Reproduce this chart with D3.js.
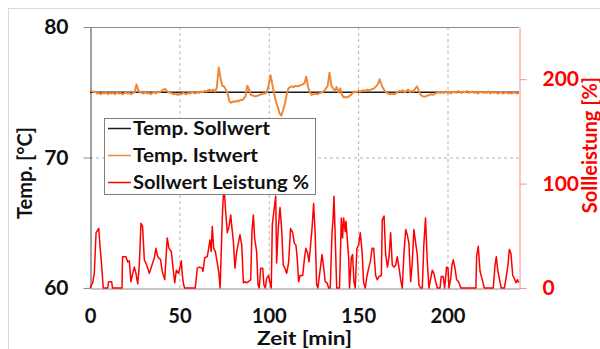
<!DOCTYPE html>
<html>
<head>
<meta charset="utf-8">
<script src="https://cdn.jsdelivr.net/npm/d3@7"></script>
<style>
  body { margin: 0; background: #fff; }
  svg text { font-family: Lato, "Liberation Sans", sans-serif; font-weight: bold; }
</style>
</head>
<body>
<svg id="chart" width="600" height="349"></svg>
<script>
// temperature setpoint (°C), flat line
const setpointTimes = [0, 240];
const setpointValues = [75, 75];

// measured temperature (°C), one value per minute, 0..240
const tempActual = [
  75.15, 75.1, 75.0, 75.05, 74.9, 74.95, 74.85, 74.95, 74.9, 75.0,     // 0
  74.85, 74.95, 74.9, 74.95, 74.85, 75.0, 74.9, 74.95, 74.85, 74.9,    // 10
  75.0, 74.9, 74.95, 74.85, 74.95, 75.0, 75.6, 75.15, 75.0, 74.95,     // 20
  74.9, 75.0, 74.9, 74.95, 74.85, 74.95, 75.0, 74.9, 75.05, 75.0,      // 30
  75.1, 75.2, 75.25, 75.1, 75.0, 74.95, 74.9, 74.85, 74.9, 74.8,       // 40
  74.9, 74.85, 74.95, 74.9, 74.85, 74.95, 74.9, 75.0, 74.95, 74.9,     // 50
  75.0, 74.95, 75.05, 75.0, 75.1, 75.05, 75.15, 75.2, 75.1, 75.2,      // 60
  75.05, 75.4, 76.9, 76.1, 75.5, 75.45, 75.2, 74.9, 74.3, 74.2,        // 70
  74.3, 74.25, 74.35, 74.3, 74.4, 74.4, 74.5, 74.7, 75.5, 75.2,        // 80
  74.8, 74.75, 74.7, 74.7, 74.75, 74.8, 74.85, 74.9, 74.9, 75.0,       // 90
  75.6, 76.3, 75.6, 74.9, 74.3, 73.9, 73.4, 73.2, 73.6, 74.1,          // 100
  74.8, 75.3, 75.4, 75.45, 75.4, 75.5, 75.45, 75.5, 75.55, 75.6,       // 110
  75.7, 76.2, 75.4, 75.0, 74.8, 74.85, 74.9, 74.85, 74.9, 74.95,       // 120
  75.0, 75.1, 75.3, 75.5, 76.5, 75.5, 75.3, 75.1, 75.4, 75.0,          // 130
  75.3, 74.8, 74.6, 74.65, 74.6, 74.7, 74.8, 74.95, 75.05, 75.0,       // 140
  75.1, 75.05, 75.1, 75.15, 75.1, 75.2, 75.15, 75.2, 75.25, 75.3,      // 150
  75.45, 75.6, 76.0, 75.6, 75.3, 75.1, 74.95, 74.9, 74.85, 74.9,       // 160
  74.85, 74.9, 75.0, 75.1, 75.05, 75.15, 75.0, 75.1, 75.2, 75.0,       // 170
  75.1, 75.05, 75.3, 75.45, 75.1, 74.8, 74.7, 74.65, 74.7, 74.75,      // 180
  74.8, 74.85, 74.8, 74.9, 74.95, 75.0, 74.95, 75.0, 74.95, 75.05,     // 190
  74.95, 75.0, 74.9, 75.05, 75.0, 74.95, 75.1, 75.0, 74.95, 75.05,     // 200
  75.0, 75.1, 74.95, 75.0, 75.05, 74.95, 75.0, 74.9, 75.0, 75.05,      // 210
  74.95, 75.0, 74.95, 75.05, 74.9, 75.0, 74.95, 75.0, 74.9, 74.95,     // 220
  75.0, 74.9, 74.95, 75.0, 74.9, 74.95, 74.9, 75.0, 74.95, 74.9, 74.95 // 230
];

// power setpoint (%) as [minute, percent]
const powerTimes = [
  0, 1.5, 2.4, 3.4, 4.9, 5.6, 6.5, 7.4, 9.9, 10.4, 12.1, 12.6, 17.9, 18.2, 20.1, 21.1, 22.0, 22.9, 23.9, 24.8,
  25.7, 26.7, 27.6, 28.5, 29.4, 30.4, 31.7, 33.2, 34.1, 36.0, 36.9, 37.9, 39.5, 40.4, 41.8, 43.2, 44.2, 45.5, 46.4, 47.4,
  48.3, 49.6, 51.1, 51.6, 52.4, 53.0, 58.9, 60.0, 61.3, 62.7, 63.2, 64.2, 65.6, 66.4, 67.1, 67.8, 68.4, 69.2, 70.1, 71.2,
  72.1, 72.8, 74.0, 74.9, 75.9, 76.8, 77.8, 78.7, 79.2, 80.2, 81.1, 82.1, 83.0, 83.9, 84.9, 85.8, 86.7, 87.7, 88.6, 89.9,
  90.6, 91.4, 92.1, 93.2, 94.0, 94.7, 95.5, 96.6, 97.3, 98.1, 98.8, 99.9, 100.7, 101.4, 102.0, 103.9, 104.4, 105.3, 106.3, 107.2,
  108.1, 109.1, 110.0, 111.1, 112.2, 113.4, 114.3, 115.2, 116.0, 116.7, 117.5, 119.0, 120.1, 120.8, 121.8, 122.5, 123.2, 124.2, 125.1, 126.0,
  126.8, 127.5, 129.8, 130.7, 131.6, 132.6, 133.5, 134.4, 135.4, 135.9, 136.5, 137.2, 138.0, 139.6, 140.6, 141.3, 141.9, 142.8, 143.2, 144.7,
  145.2, 146.2, 146.9, 147.7, 148.4, 149.3, 150.3, 151.2, 152.2, 153.1, 154.0, 155.0, 155.9, 156.8, 157.8, 158.7, 159.8, 160.7, 161.7, 163.0,
  163.5, 164.5, 165.4, 166.4, 167.3, 168.2, 169.1, 170.1, 171.0, 171.9, 172.9, 173.8, 174.7, 175.6, 176.6, 177.5, 178.4, 179.4, 180.3, 181.2,
  182.2, 183.1, 184.0, 185.0, 185.9, 186.8, 187.7, 188.7, 189.6, 190.6, 191.5, 192.4, 193.4, 194.3, 195.8, 196.5, 197.6, 198.4, 199.5, 200.3,
  200.8, 201.8, 202.5, 203.2, 204.2, 205.1, 206.2, 207.5, 215.9, 216.3, 217.2, 218.2, 219.3, 220.6, 225.6, 226.6, 227.3, 228.1, 229.0, 230.1,
  231.8, 232.7, 233.8, 234.6, 235.5, 236.5, 237.4, 238.3, 239.2, 239.8
];
const powerValues = [
  0, 5, 14, 53, 57, 40, 22, 0, 0, 6, 6, 0, 0, 30, 30, 25, 26, 6, 14, 20,
  14, 4, 22, 62, 59, 27, 22, 14, 19, 29, 38, 30, 27, 16, 8, 48, 38, 35, 20, 5,
  17, 14, 26, 13, 3, 0, 0, 19, 20, 19, 16, 29, 30, 38, 46, 35, 59, 38, 35, 24,
  14, 0, 67, 100, 73, 53, 59, 70, 61, 45, 19, 35, 43, 51, 41, 5, 6, 5, 6, 8,
  54, 70, 48, 35, 3, 0, 19, 19, 3, 0, 9, 12, 5, 0, 61, 88, 24, 57, 77, 57,
  22, 19, 14, 24, 57, 53, 43, 41, 27, 6, 12, 12, 30, 38, 33, 25, 37, 57, 81, 51,
  3, 0, 32, 20, 6, 5, 0, 0, 53, 64, 88, 48, 0, 0, 67, 48, 67, 54, 64, 29,
  0, 29, 32, 6, 0, 38, 41, 53, 35, 5, 0, 12, 19, 25, 38, 38, 12, 8, 11, 12,
  65, 69, 32, 20, 30, 53, 22, 20, 22, 30, 19, 8, 0, 32, 56, 51, 43, 6, 25, 56,
  43, 32, 3, 0, 0, 43, 67, 25, 0, 9, 17, 14, 6, 0, 0, 11, 11, 0, 20, 19,
  0, 9, 22, 27, 19, 8, 6, 0, 0, 30, 40, 16, 9, 0, 0, 22, 30, 17, 9, 0,
  0, 9, 22, 37, 33, 12, 9, 5, 8, 5
];

const xTicks = [0, 50, 100, 150, 200];
const tempTicks = [60, 70, 80];
const powerTicks = [0, 100, 200];
const legendLabels = ["Temp. Sollwert", "Temp. Istwert", "Sollwert Leistung %"];
const legendColors = ["#1a1a1a", "#f0883a", "#ff0000"];
const legendWidths = [137, 125, 176]; // text widths as seen in the picture

const plotLeft = 90, plotRight = 519, plotTop = 27, plotBottom = 288;

const svg = d3.select("#chart");

// outer chart border
svg.append("rect")
  .attr("x", 8.5).attr("y", 8.5)
  .attr("width", 640).attr("height", 380)
  .attr("fill", "none").attr("stroke", "#d9d9d9");

const x = d3.scaleLinear().domain([0, 240]).range([plotLeft, plotRight]);
const yT = d3.scaleLinear().domain([60, 80]).range([plotBottom, plotTop]);
const yP = d3.scaleLinear().domain([0, 250]).range([plotBottom, plotTop]);

// gridlines
svg.append("g").selectAll("line")
  .data(xTicks.filter(d => d > 0))
  .enter().append("line")
  .attr("x1", d => x(d) + 0.5).attr("x2", d => x(d) + 0.5)
  .attr("y1", plotTop).attr("y2", plotBottom)
  .attr("stroke", "#b4b4b4").attr("stroke-dasharray", "3,3");
svg.append("line")
  .attr("x1", plotLeft).attr("x2", plotRight)
  .attr("y1", yT(70) + 0.5).attr("y2", yT(70) + 0.5)
  .attr("stroke", "#b4b4b4").attr("stroke-dasharray", "3,3");

// plot frame top
svg.append("line")
  .attr("x1", plotLeft).attr("x2", plotRight)
  .attr("y1", plotTop + 0.5).attr("y2", plotTop + 0.5)
  .attr("stroke", "#8c8c8c");

// left axis
const gL = svg.append("g")
  .attr("transform", `translate(${plotLeft + 0.5},0)`)
  .call(d3.axisLeft(yT).tickValues(tempTicks).tickSize(7).tickSizeOuter(0).tickPadding(15));
gL.select(".domain").attr("stroke", "#404040");
gL.selectAll(".tick line").attr("stroke", "#8c8c8c");
gL.selectAll(".tick text").attr("font-size", 21).attr("fill", "#111");

// bottom axis
const gB = svg.append("g")
  .attr("transform", `translate(0,${plotBottom + 0.5})`)
  .call(d3.axisBottom(x).tickValues(xTicks).tickSize(0).tickSizeOuter(0).tickPadding(20));
gB.select(".domain").attr("stroke", "#8c8c8c");
gB.selectAll(".tick text").attr("font-size", 20).attr("fill", "#111")
  .attr("textLength", d => String(d).length * 11.7).attr("lengthAdjust", "spacingAndGlyphs");

// right axis
const gR = svg.append("g")
  .attr("transform", `translate(${plotRight + 0.5},0)`)
  .call(d3.axisRight(yP).tickValues(powerTicks).tickSize(7).tickSizeOuter(0).tickPadding(16));
gR.select(".domain").attr("stroke", "#ff8c8c");
gR.selectAll(".tick line").attr("stroke", "#ff8c8c");
gR.selectAll(".tick text").attr("font-size", 21).attr("fill", "#ff0000");

// lines
const line = (xs, ys, sc) => d3.line().x((d, i) => x(xs[i])).y(d => sc(d))(ys);

svg.append("path")
  .attr("d", line(setpointTimes, setpointValues, yT))
  .attr("fill", "none").attr("stroke", legendColors[0]).attr("stroke-width", 1.5);

svg.append("path")
  .attr("d", line(tempActual.map((d, i) => i), tempActual, yT))
  .attr("fill", "none").attr("stroke", legendColors[1]).attr("stroke-width", 2)
  .attr("stroke-linejoin", "round");

svg.append("path")
  .attr("d", line(powerTimes, powerValues, yP))
  .attr("fill", "none").attr("stroke", legendColors[2]).attr("stroke-width", 1.5)
  .attr("stroke-linejoin", "round");

// axis titles
svg.append("text")
  .attr("transform", "translate(32,173) rotate(-90)")
  .attr("text-anchor", "middle").attr("font-size", 20).attr("fill", "#111")
  .text("Temp. [°C]");
svg.append("text")
  .attr("transform", "translate(597,145) rotate(-90)")
  .attr("text-anchor", "middle").attr("font-size", 20).attr("fill", "#ff0000")
  .text("Sollleistung [%]");
svg.append("text")
  .attr("x", (plotLeft + plotRight) / 2).attr("y", 344.5)
  .attr("text-anchor", "middle").attr("font-size", 18).attr("fill", "#111")
  .attr("textLength", 95).attr("lengthAdjust", "spacingAndGlyphs")
  .text("Zeit [min]");

// legend
const lg = svg.append("g");
lg.append("rect")
  .attr("x", 104.5).attr("y", 118.5).attr("width", 211).attr("height", 76)
  .attr("fill", "#fff").attr("stroke", "#7f7f7f");
const rows = lg.selectAll("g.row").data(legendLabels).enter().append("g")
  .attr("transform", (d, i) => `translate(108,${128 + i * 27})`);
rows.append("line")
  .attr("x1", 0).attr("x2", 23).attr("y1", 0.5).attr("y2", 0.5)
  .attr("stroke", (d, i) => legendColors[i]).attr("stroke-width", 1.5);
rows.append("text")
  .attr("x", 25).attr("y", 7)
  .attr("font-size", 18).attr("fill", "#111")
  .attr("textLength", (d, i) => legendWidths[i]).attr("lengthAdjust", "spacingAndGlyphs")
  .text(d => d);
</script>
</body>
</html>
